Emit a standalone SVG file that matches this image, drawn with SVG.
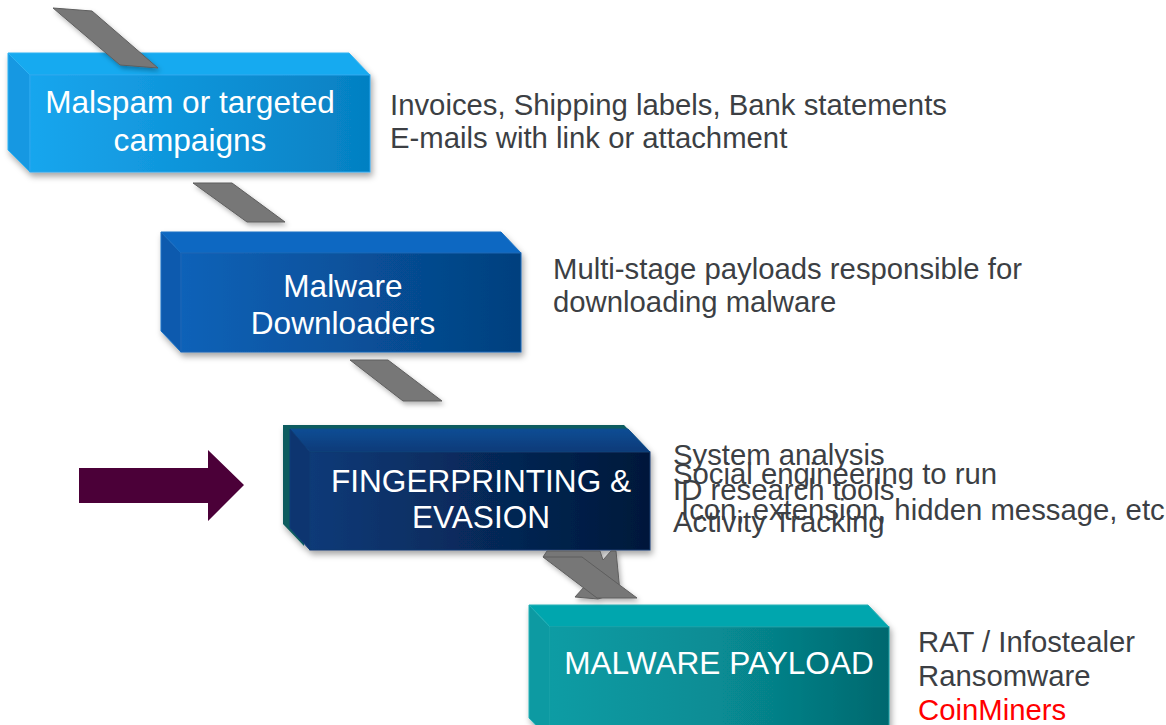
<svg xmlns="http://www.w3.org/2000/svg" width="1166" height="725" viewBox="0 0 1166 725">
  <defs>
    <style>
      .lbl { font-family: "Liberation Sans", Arial, sans-serif; font-size: 31.6px; fill: #ffffff; text-anchor: middle; }
      .note { font-family: "Liberation Sans", Arial, sans-serif; font-size: 29.3px; fill: #3c3f44; }
      .red { fill: #ff0000; }
      .conn { fill: #777777; stroke: #5e5e5e; stroke-width: 1; stroke-linejoin: round; }
    </style>
    <filter id="shadow" x="-10%" y="-10%" width="125%" height="140%">
      <feDropShadow dx="2" dy="4" stdDeviation="3" flood-color="#000000" flood-opacity="0.35"/>
    </filter>
    <filter id="cshadow" x="-20%" y="-20%" width="150%" height="160%">
      <feDropShadow dx="2" dy="3" stdDeviation="2.5" flood-color="#000000" flood-opacity="0.3"/>
    </filter>
    <!-- front-face gradients, light on the left, darker on the right -->
    <linearGradient id="g1" x1="0" y1="0" x2="1" y2="0">
      <stop offset="0" stop-color="#18a6ee"/>
      <stop offset="1" stop-color="#0580c2"/>
    </linearGradient>
    <linearGradient id="g2" x1="0" y1="0" x2="1" y2="0">
      <stop offset="0" stop-color="#0b62b8"/>
      <stop offset="1" stop-color="#04407e"/>
    </linearGradient>
    <linearGradient id="g3" x1="0" y1="0" x2="1" y2="0">
      <stop offset="0" stop-color="#0a3a78"/>
      <stop offset="1" stop-color="#03183a"/>
    </linearGradient>
    <linearGradient id="g4" x1="0" y1="0" x2="1" y2="0">
      <stop offset="0" stop-color="#0a9ca4"/>
      <stop offset="0.5" stop-color="#078c94"/>
      <stop offset="1" stop-color="#04686e"/>
    </linearGradient>
    <linearGradient id="t3" x1="0" y1="0" x2="0" y2="1">
      <stop offset="0" stop-color="#0f4d94"/>
      <stop offset="1" stop-color="#0a3a78"/>
    </linearGradient>
  </defs>

  <rect width="1166" height="725" fill="#ffffff"/>

  <!-- stage 1 -->
  <g id="node-malspam">
    <g filter="url(#shadow)">
      <polygon points="8,53 349,53 370,75 30,75" fill="#14aaf0" stroke="#2eb2f2" stroke-width="1"/>
      <polygon points="8,53 30,75 30,172 8,150" fill="#1898e2" stroke="#2eb2f2" stroke-width="1"/>
      <rect x="30" y="75" width="340" height="97" fill="url(#g1)" stroke="#2aa6ee" stroke-width="1"/>
    </g>
    <text class="lbl" x="190" y="113">Malspam or targeted</text>
    <text class="lbl" x="190" y="151">campaigns</text>
  </g>

  <!-- stage 2 -->
  <g id="node-downloaders">
    <g filter="url(#shadow)">
      <polygon points="161,232 501,232 521,253 181,253" fill="#0a68c2" stroke="#1a70c4" stroke-width="1"/>
      <polygon points="161,232 181,253 181,352 161,331" fill="#0a5aae" stroke="#1a70c4" stroke-width="1"/>
      <rect x="181" y="253" width="340" height="99" fill="url(#g2)" stroke="#1a64b4" stroke-width="1"/>
    </g>
    <text class="lbl" x="343" y="297">Malware</text>
    <text class="lbl" x="343" y="334">Downloaders</text>
  </g>

  <!-- stage 3 -->
  <g id="node-fingerprinting">
    <g filter="url(#shadow)">
      <polygon points="283,425 624,425 648,450 304,449 304,546 283,524" fill="#0b5b5e"/>
      <polygon points="290,429 628,429 650,452 310,452" fill="url(#t3)" stroke="#14508c" stroke-width="1"/>
      <polygon points="290,429 310,452 310,550 290,528" fill="#0a3470" stroke="#0e3c78" stroke-width="1"/>
      <rect x="310" y="452" width="340" height="98" fill="url(#g3)" stroke="#0e3a70" stroke-width="1"/>
    </g>
    <text class="lbl" x="481" y="492">FINGERPRINTING &amp;</text>
    <text class="lbl" x="481" y="528">EVASION</text>
  </g>

  <!-- stage 4 -->
  <g id="node-payload">
    <g filter="url(#shadow)">
      <polygon points="529,605 868,605 889,627 550,627" fill="#04a6ae" stroke="#20b0b6" stroke-width="1"/>
      <polygon points="529,605 550,627 550,740 529,718" fill="#0b9aa2" stroke="#20b0b6" stroke-width="1"/>
      <rect x="550" y="627" width="339" height="110" fill="url(#g4)" stroke="#149ca2" stroke-width="1"/>
    </g>
    <text class="lbl" x="719" y="674">MALWARE PAYLOAD</text>
  </g>

  <!-- pointer arrow -->
  <g id="node-pointer">
    <polygon points="79,468 208,468 208,450 244,485 208,521 208,503 79,503" fill="#4b0038"/>
  </g>

  <!-- descriptions -->
  <g id="node-notes-1">
    <text class="note" x="390" y="115">Invoices, Shipping labels, Bank statements</text>
    <text class="note" x="390" y="148">E-mails with link or attachment</text>
  </g>
  <g id="node-notes-2">
    <text class="note" x="553" y="279">Multi-stage payloads responsible for</text>
    <text class="note" x="553" y="312">downloading malware</text>
  </g>
  <g id="node-notes-3">
    <text class="note" x="673" y="465">System analysis</text>
    <text class="note" x="673" y="484">Social engineering to run</text>
    <text class="note" x="673" y="500">ID research tools</text>
    <text class="note" x="681" y="520">Icon, extension, hidden message, etc</text>
    <text class="note" x="673" y="532">Activity Tracking</text>
  </g>
  <g id="node-notes-4">
    <text class="note" x="918" y="652">RAT / Infostealer</text>
    <text class="note" x="918" y="686">Ransomware</text>
    <text class="note red" x="918" y="720">CoinMiners</text>
  </g>

  <!-- connectors between stages -->
  <g id="connectors" filter="url(#cshadow)">
    <polygon class="conn" points="53,8 92,11 158,68 120,65"/>
    <polygon class="conn" points="193,183 232,183 285,222 247,222"/>
    <polygon class="conn" points="350,360 388,360 442,401 403,401"/>
    <polygon class="conn" points="547,551 600,551 603,560 611,551 616,551 620,592 598,599 575,597 584,587 575,570 543,557" fill="#7c7c7c"/>
    <polygon class="conn" points="543,557 582,557 637,598 597,598"/>
  </g>
</svg>
